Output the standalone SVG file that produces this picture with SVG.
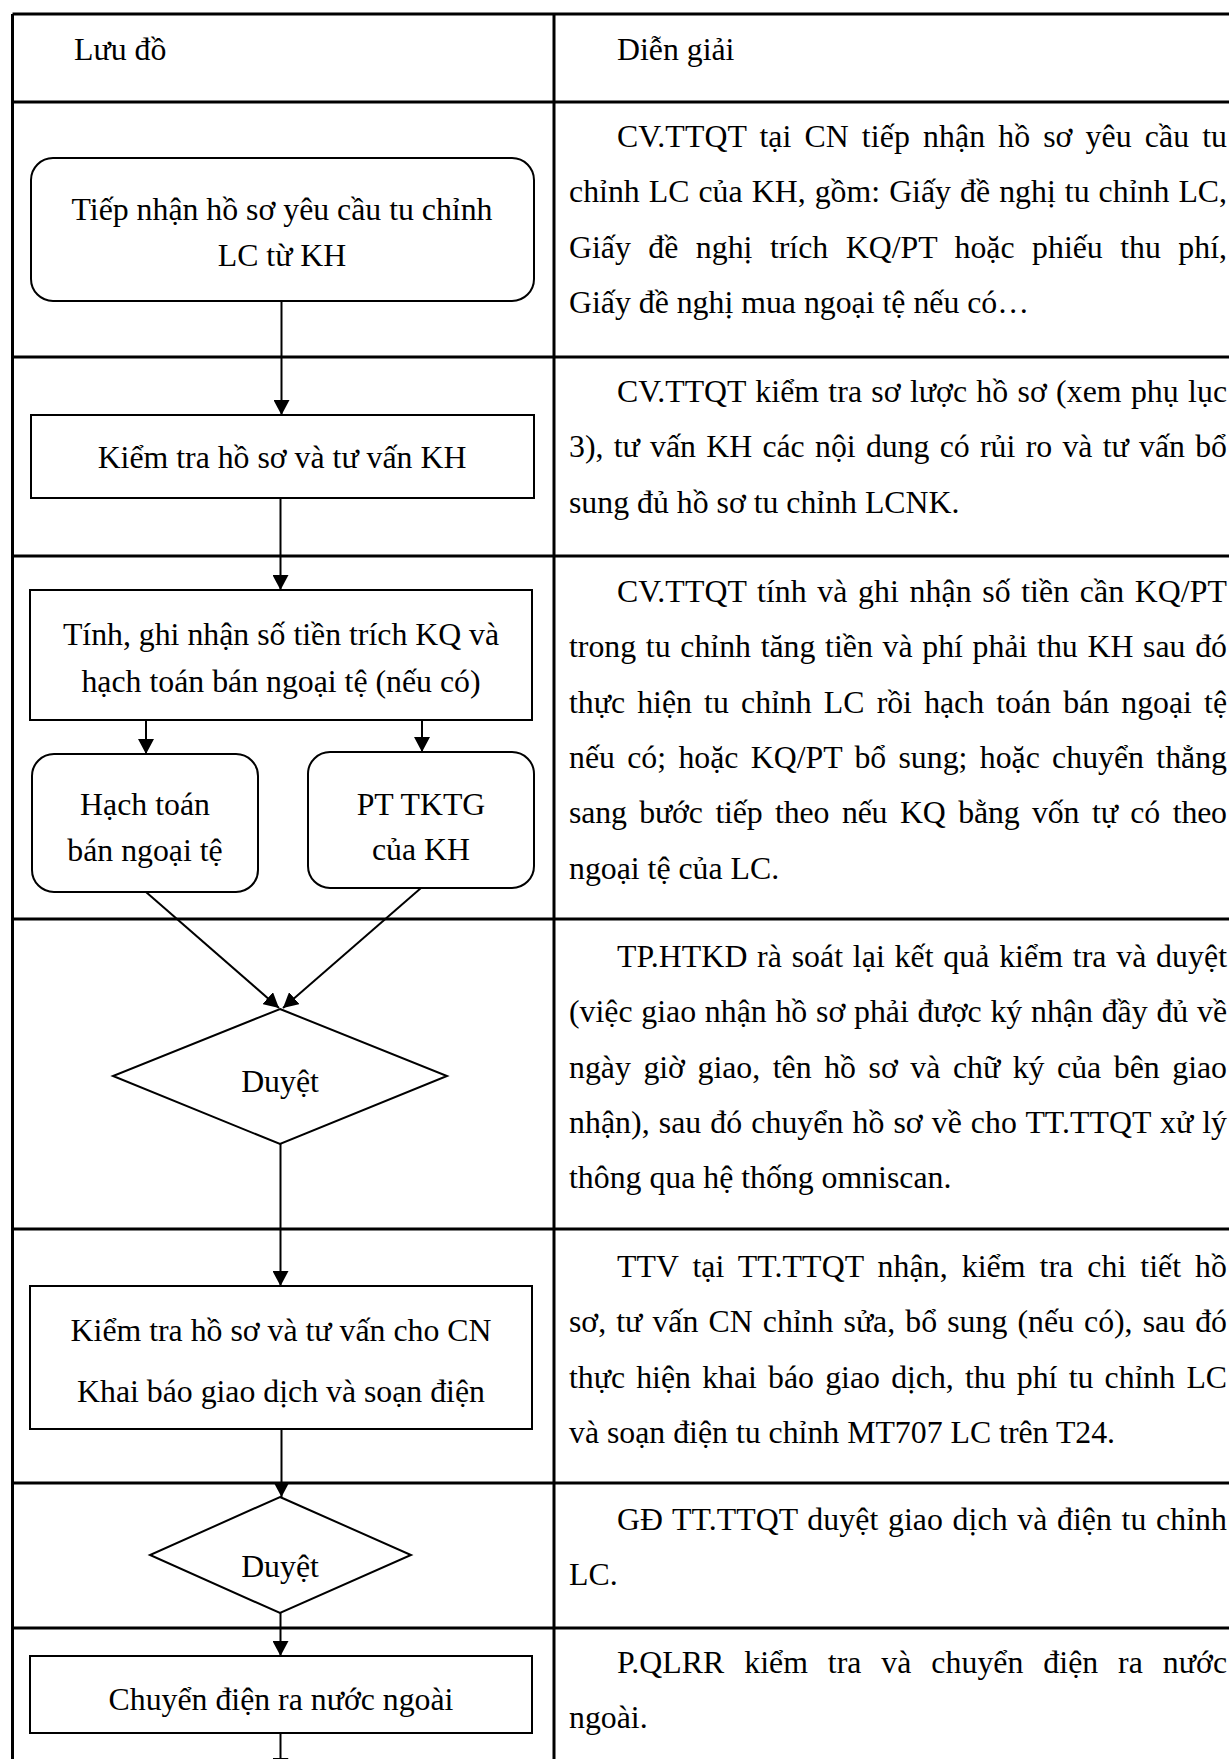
<svg xmlns="http://www.w3.org/2000/svg" width="1229" height="1759" viewBox="0 0 1229 1759">
<style>
.t{font-family:"Liberation Serif","Times New Roman",serif;font-size:31.8px;fill:#000}
.c{text-anchor:middle}
.grid{stroke:#000;stroke-width:3;fill:none}
.node{fill:#fff;stroke:#000;stroke-width:2}
.conn{stroke:#000;stroke-width:2;fill:none;marker-end:url(#arr)}
</style>
<defs>
<marker id="arr" viewBox="0 0 15 16" refX="15" refY="8" markerWidth="15" markerHeight="16" orient="auto" markerUnits="userSpaceOnUse">
<path d="M0,0 L15,8 L0,16 z" fill="#000"/>
</marker>
</defs>
<rect width="1229" height="1759" fill="#fff"/>
<g id="table">
<path class="grid" d="M12.5,14 H1229 M12.5,102 H1229 M12.5,357 H1229 M12.5,556 H1229 M12.5,919 H1229 M12.5,1229 H1229 M12.5,1483 H1229 M12.5,1628 H1229 M12.5,14 V1759 M554,14 V1759"/>
<text class="t" x="74" y="60">Lưu đồ</text>
<text class="t" x="617" y="60">Diễn giải</text>
</g>
<g id="connectors">
<line class="conn" x1="281.5" y1="301" x2="281.5" y2="415"/>
<line class="conn" x1="280.5" y1="498" x2="280.5" y2="590"/>
<line class="conn" x1="146" y1="720" x2="146" y2="754"/>
<line class="conn" x1="422" y1="720" x2="422" y2="752"/>
<line class="conn" x1="146" y1="892" x2="279" y2="1008"/>
<line class="conn" x1="421" y1="888" x2="283" y2="1008"/>
<line class="conn" x1="280.5" y1="1144" x2="280.5" y2="1286"/>
<line class="conn" x1="281.5" y1="1429" x2="281.5" y2="1497"/>
<line class="conn" x1="280.5" y1="1613" x2="280.5" y2="1656"/>
<line class="conn" x1="280.5" y1="1733" x2="280.5" y2="1773"/>
</g>
<g id="n1">
<rect class="node" x="31" y="158" width="503" height="143" rx="22"/>
<text class="t c" x="282" y="220">Tiếp nhận hồ sơ yêu cầu tu chỉnh</text>
<text class="t c" x="282" y="266">LC từ KH</text>
</g>
<g id="n2">
<rect class="node" x="31" y="415" width="503" height="83"/>
<text class="t c" x="282" y="468">Kiểm tra hồ sơ và tư vấn KH</text>
</g>
<g id="n3">
<rect class="node" x="30" y="590" width="502" height="130"/>
<text class="t c" x="281" y="645">Tính, ghi nhận số tiền trích KQ và</text>
<text class="t c" x="281" y="692">hạch toán bán ngoại tệ (nếu có)</text>
</g>
<g id="n4a">
<rect class="node" x="32" y="754" width="226" height="138" rx="22"/>
<text class="t c" x="145" y="815">Hạch toán</text>
<text class="t c" x="145" y="861">bán ngoại tệ</text>
</g>
<g id="n4b">
<rect class="node" x="308" y="752" width="226" height="136" rx="22"/>
<text class="t c" x="421" y="815">PT TKTG</text>
<text class="t c" x="421" y="860">của KH</text>
</g>
<g id="d1">
<polygon class="node" points="280,1009 447,1076 280,1144 113,1076"/>
<text class="t c" x="280" y="1092">Duyệt</text>
</g>
<g id="n5">
<rect class="node" x="30" y="1286" width="502" height="143"/>
<text class="t c" x="281" y="1341">Kiểm tra hồ sơ và tư vấn cho CN</text>
<text class="t c" x="281" y="1402">Khai báo giao dịch và soạn điện</text>
</g>
<g id="d2">
<polygon class="node" points="280,1497 411,1555 280,1613 150,1555"/>
<text class="t c" x="280" y="1577">Duyệt</text>
</g>
<g id="n6">
<rect class="node" x="30" y="1656" width="502" height="77"/>
<text class="t c" x="281" y="1710">Chuyển điện ra nước ngoài</text>
</g>
<g id="desc">
<text class="t" x="617" y="147" word-spacing="4.9" textLength="610" lengthAdjust="spacing">CV.TTQT tại CN tiếp nhận hồ sơ yêu cầu tu</text>
<text class="t" x="569" y="202.3" word-spacing="1.1" textLength="658" lengthAdjust="spacing">chỉnh LC của KH, gồm: Giấy đề nghị tu chỉnh LC,</text>
<text class="t" x="569" y="257.6" word-spacing="9.5" textLength="658" lengthAdjust="spacing">Giấy đề nghị trích KQ/PT hoặc phiếu thu phí,</text>
<text class="t" x="569" y="312.9">Giấy đề nghị mua ngoại tệ nếu có…</text>

<text class="t" x="617" y="402" word-spacing="1.3" textLength="610" lengthAdjust="spacing">CV.TTQT kiểm tra sơ lược hồ sơ (xem phụ lục</text>
<text class="t" x="569" y="457.3" word-spacing="2.4" textLength="658" lengthAdjust="spacing">3), tư vấn KH các nội dung có rủi ro và tư vấn bổ</text>
<text class="t" x="569" y="512.6">sung đủ hồ sơ tu chỉnh LCNK.</text>

<text class="t" x="617" y="602" word-spacing="2.4" textLength="610" lengthAdjust="spacing">CV.TTQT tính và ghi nhận số tiền cần KQ/PT</text>
<text class="t" x="569" y="657.3" word-spacing="1.8" textLength="658" lengthAdjust="spacing">trong tu chỉnh tăng tiền và phí phải thu KH sau đó</text>
<text class="t" x="569" y="712.6" word-spacing="4.3" textLength="658" lengthAdjust="spacing">thực hiện tu chỉnh LC rồi hạch toán bán ngoại tệ</text>
<text class="t" x="569" y="767.9" word-spacing="4.3" textLength="658" lengthAdjust="spacing">nếu có; hoặc KQ/PT bổ sung; hoặc chuyển thẳng</text>
<text class="t" x="569" y="823.2" word-spacing="4.85" textLength="658" lengthAdjust="spacing">sang bước tiếp theo nếu KQ bằng vốn tự có theo</text>
<text class="t" x="569" y="878.5">ngoại tệ của LC.</text>

<text class="t" x="617" y="967" word-spacing="1.6" textLength="610" lengthAdjust="spacing">TP.HTKD rà soát lại kết quả kiểm tra và duyệt</text>
<text class="t" x="569" y="1022.3" word-spacing="0.9" textLength="658" lengthAdjust="spacing">(việc giao nhận hồ sơ phải được ký nhận đầy đủ về</text>
<text class="t" x="569" y="1077.6" word-spacing="4.6" textLength="658" lengthAdjust="spacing">ngày giờ giao, tên hồ sơ và chữ ký của bên giao</text>
<text class="t" x="569" y="1132.9" word-spacing="1" textLength="658" lengthAdjust="spacing">nhận), sau đó chuyển hồ sơ về cho TT.TTQT xử lý</text>
<text class="t" x="569" y="1188.2">thông qua hệ thống omniscan.</text>

<text class="t" x="617" y="1277" word-spacing="5.8" textLength="610" lengthAdjust="spacing">TTV tại TT.TTQT nhận, kiểm tra chi tiết hồ</text>
<text class="t" x="569" y="1332.3" word-spacing="2.2" textLength="658" lengthAdjust="spacing">sơ, tư vấn CN chỉnh sửa, bổ sung (nếu có), sau đó</text>
<text class="t" x="569" y="1387.6" word-spacing="3.35" textLength="658" lengthAdjust="spacing">thực hiện khai báo giao dịch, thu phí tu chỉnh LC</text>
<text class="t" x="569" y="1442.9">và soạn điện tu chỉnh MT707 LC trên T24.</text>

<text class="t" x="617" y="1530" word-spacing="1.5" textLength="610" lengthAdjust="spacing">GĐ TT.TTQT duyệt giao dịch và điện tu chỉnh</text>
<text class="t" x="569" y="1585.3">LC.</text>

<text class="t" x="617" y="1673" word-spacing="11.7" textLength="610" lengthAdjust="spacing">P.QLRR kiểm tra và chuyển điện ra nước</text>
<text class="t" x="569" y="1728.3">ngoài.</text>
</g>
</svg>
